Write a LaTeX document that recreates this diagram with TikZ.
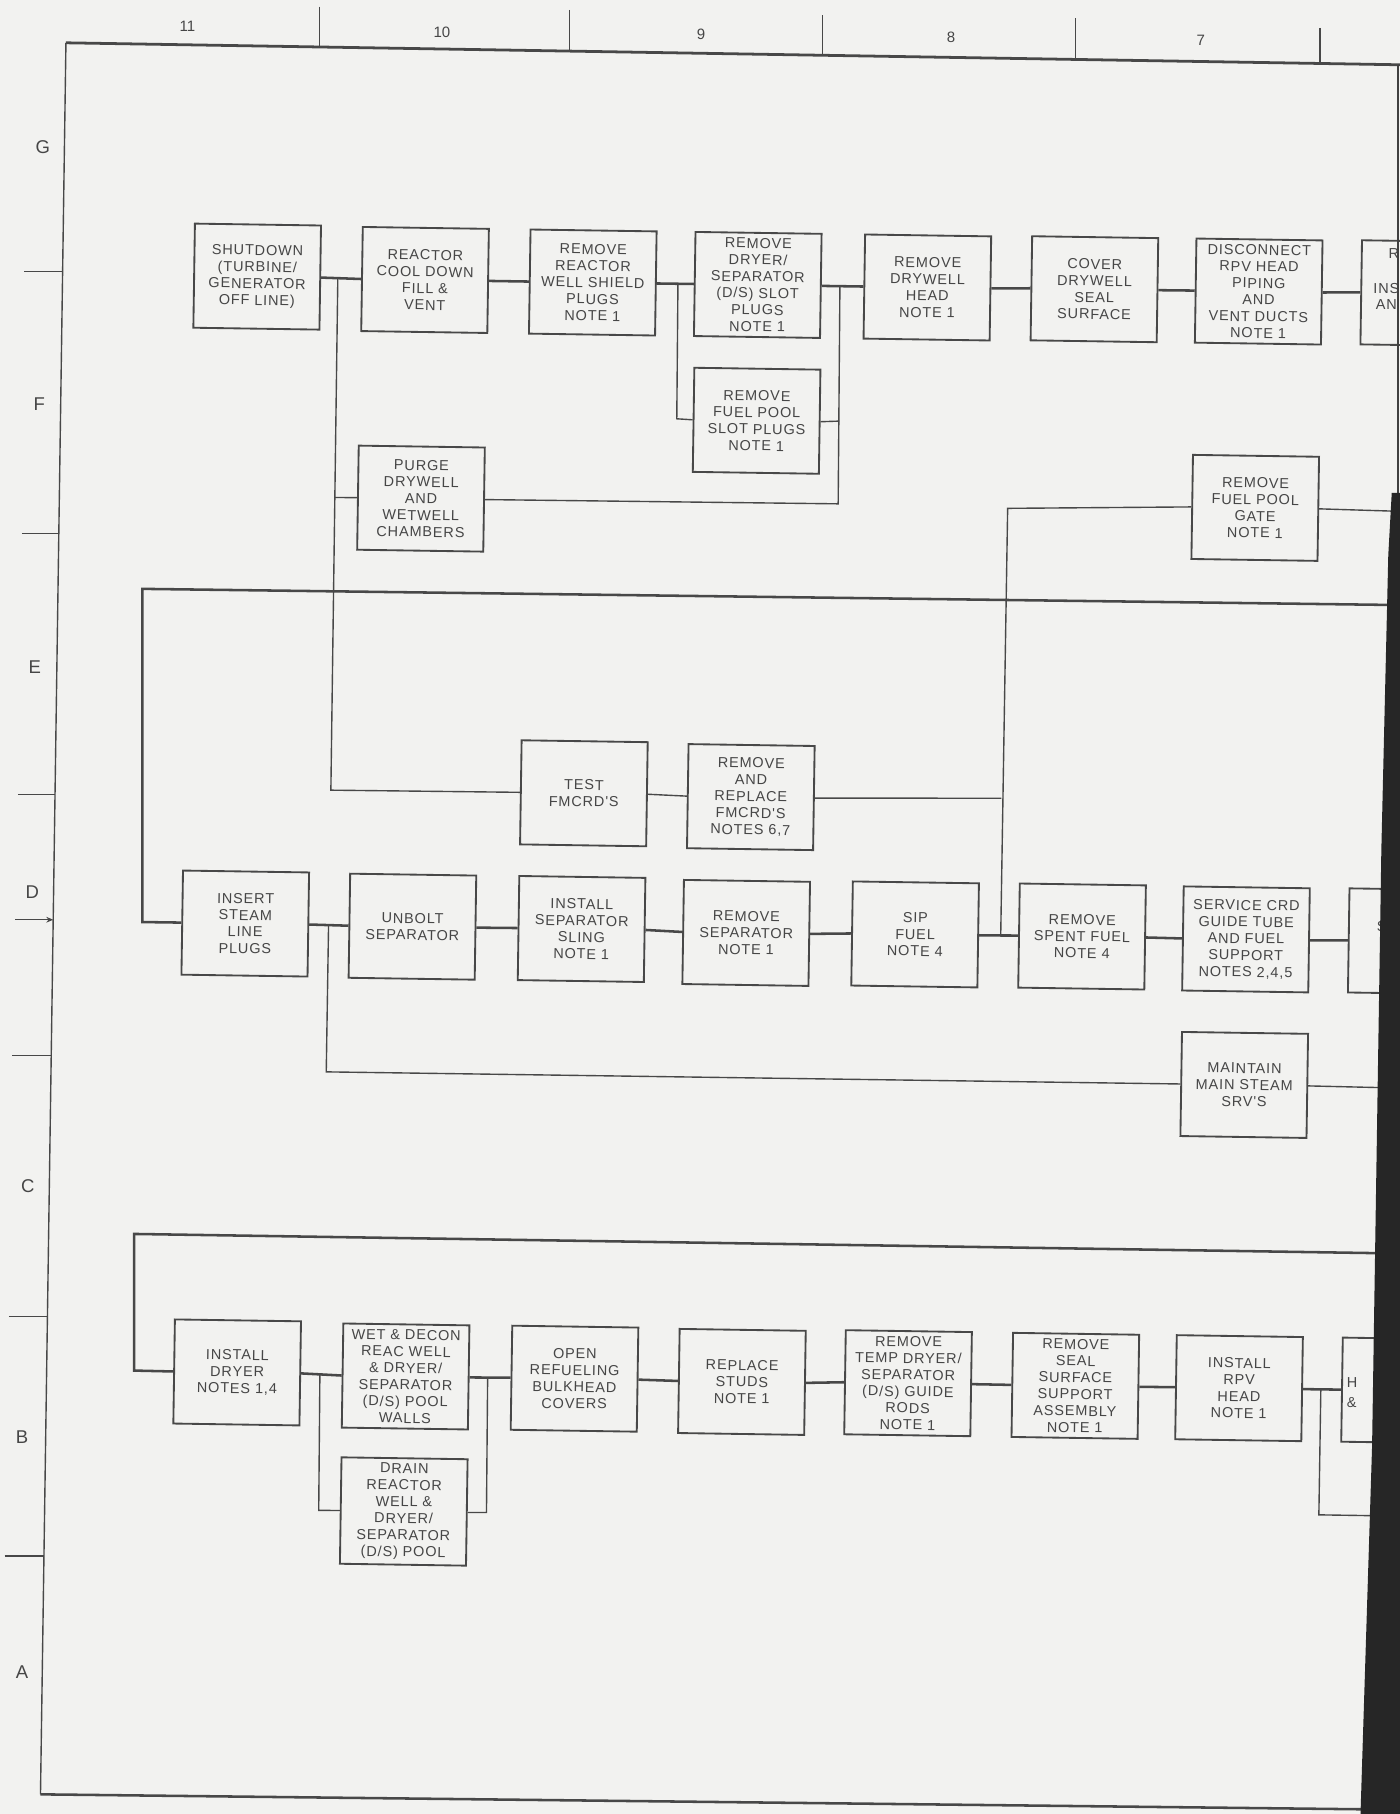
\documentclass[tikz,border=0pt]{standalone}
\usepackage{fontspec}
\setmainfont{Liberation Sans}
\newfontfamily\boxface{Liberation Sans}[LetterSpace=6]
\usetikzlibrary{arrows.meta}
\definecolor{paper}{RGB}{242,242,240}
\definecolor{ink}{RGB}{72,72,72}
\definecolor{inktext}{RGB}{70,70,70}
\tikzset{
  task/.style={draw=ink, line width=1.6pt, minimum width=109pt, minimum height=90pt, inner sep=0pt, rotate=-0.86, align=center, text=inktext, font=\boxface\fontsize{12.5}{14.4}\selectfont},
  cutlbl/.style={anchor=west, inner sep=0pt, text=inktext, font=\boxface\fontsize{12.5}{14.4}\selectfont},
  flow/.style={draw=ink, line width=2.2pt},
  branch/.style={draw=ink, line width=1.2pt},
  zonelbl/.style={text=inktext, font=\fontsize{16}{16}\selectfont},
  collbl/.style={text=inktext, font=\fontsize{13}{13}\selectfont},
}
\begin{document}
\begin{tikzpicture}[x=1pt, y=-1pt]
\fill[paper] (0,0) rectangle (1210,1568);
\useasboundingbox (0,0) rectangle (1210,1568);

\draw[ink, line width=2.4pt] (57,37) -- (1210,56);
\draw[ink, line width=1.2pt] (57,37) -- (35,1551);
\draw[ink, line width=2.2pt] (35,1551) -- (1185,1564);
\draw[ink, line width=1pt] (276,5.8) -- (276,40.6);
\draw[ink, line width=1pt] (492,8.6) -- (492,44.2);
\draw[ink, line width=1pt] (711,13) -- (711,47.8);
\draw[ink, line width=1pt] (930,15.8) -- (930,51.4);
\draw[ink, line width=1pt] (1141,24) -- (1141,54.9);
\node[collbl] (col11) at (162,23) {11};
\node[collbl] (col10) at (382,28) {10};
\node[collbl] (col9) at (606,30) {9};
\node[collbl] (col8) at (822,32) {8};
\node[collbl] (col7) at (1038,35) {7};
\draw[ink, line width=1pt] (21,235) -- (54,235);
\draw[ink, line width=1pt] (19,461) -- (51,461);
\draw[ink, line width=1pt] (15.5,687) -- (47.6,687);
\draw[ink, line width=1pt] (10.8,912) -- (44.3,912);
\draw[ink, line width=1pt] (7.7,1138) -- (41,1138);
\draw[ink, line width=1pt] (3.9,1345) -- (38,1345);
\draw[ink, line width=1pt, -{Stealth[length=6pt, width=5pt]}] (13,795) -- (46,795);
\node[zonelbl] (rowG) at (37,127) {G};
\node[zonelbl] (rowF) at (34,349) {F};
\node[zonelbl] (rowE) at (30,577) {E};
\node[zonelbl] (rowD) at (28,771) {D};
\node[zonelbl] (rowC) at (24,1025) {C};
\node[zonelbl] (rowB) at (19,1242) {B};
\node[zonelbl] (rowA) at (19,1445) {A};

\node[task] (shutdown) at (222.3,239.1) {SHUTDOWN\\(TURBINE/\\GENERATOR\\OFF LINE)};
\node[task] (cooldown) at (367.4,242) {REACTOR\\COOL DOWN\\FILL \&\\VENT};
\node[task] (shieldplugs) at (512.4,244.2) {REMOVE\\REACTOR\\WELL SHIELD\\PLUGS\\NOTE 1};
\node[task] (slotplugs) at (655,246.3) {REMOVE\\DRYER/\\SEPARATOR\\(D/S) SLOT\\PLUGS\\NOTE 1};
\node[task] (drywellhead) at (801.6,248.5) {REMOVE\\DRYWELL\\HEAD\\NOTE 1};
\node[task] (sealcover) at (946,250) {COVER\\DRYWELL\\SEAL\\SURFACE};
\node[task] (headpiping) at (1088,252) {DISCONNECT\\RPV HEAD\\PIPING\\AND\\VENT DUCTS\\NOTE 1};
\node[task] (rowgcut) at (1231.1,253.5) {};
\node[task] (poolplugs) at (654,363.7) {REMOVE\\FUEL POOL\\SLOT PLUGS\\NOTE 1};
\node[task] (purge) at (363.9,431) {PURGE\\DRYWELL\\AND\\WETWELL\\CHAMBERS};
\node[task] (poolgate) at (1085,439) {REMOVE\\FUEL POOL\\GATE\\NOTE 1};

\node[task] (tstfmcrd) at (504.7,685.7) {TEST\\FMCRD'S};
\node[task] (replfmcrd) at (649,689) {REMOVE\\AND\\REPLACE\\FMCRD'S\\NOTES 6,7};
\node[task] (steamplugs) at (212,798.3) {INSERT\\STEAM\\LINE\\PLUGS};
\node[task] (unbolt) at (356.5,801) {UNBOLT\\SEPARATOR};
\node[task] (sling) at (502.7,803) {INSTALL\\SEPARATOR\\SLING\\NOTE 1};
\node[task] (rmvsep) at (645,806.4) {REMOVE\\SEPARATOR\\NOTE 1};
\node[task] (sipfuel) at (791,807.7) {SIP\\FUEL\\NOTE 4};
\node[task] (spentfuel) at (935.3,809.5) {REMOVE\\SPENT FUEL\\NOTE 4};
\node[task] (crdguide) at (1077,812) {SERVICE CRD\\GUIDE TUBE\\AND FUEL\\SUPPORT\\NOTES 2,4,5};
\node[task] (rowdcut) at (1220.3,813.7) {};
\node[task] (mainsteam) at (1075.5,937.8) {MAINTAIN\\MAIN STEAM\\SRV'S};

\node[task] (dryer) at (205,1186.3) {INSTALL\\DRYER\\NOTES 1,4};
\node[task] (decon) at (350.6,1189.8) {WET \& DECON\\REAC WELL\\\& DRYER/\\SEPARATOR\\(D/S) POOL\\WALLS};
\node[task, minimum height=92pt] (drain) at (349,1306.5) {DRAIN\\REACTOR\\WELL \&\\DRYER/\\SEPARATOR\\(D/S) POOL};
\node[task] (bulkhead) at (496.6,1191.7) {OPEN\\REFUELING\\BULKHEAD\\COVERS};
\node[task] (studs) at (641.3,1194.5) {REPLACE\\STUDS\\NOTE 1};
\node[task] (guiderods) at (784.9,1195.6) {REMOVE\\TEMP DRYER/\\SEPARATOR\\(D/S) GUIDE\\RODS\\NOTE 1};
\node[task] (sealsupport) at (929.5,1197.9) {REMOVE\\SEAL\\SURFACE\\SUPPORT\\ASSEMBLY\\NOTE 1};
\node[task] (rpvhead) at (1071,1199.9) {INSTALL\\RPV\\HEAD\\NOTE 1};
\node[task] (rowbcut) at (1214.5,1202) {};

\node[cutlbl] (rowgcut1) at (1200,219) {R};
\node[cutlbl] (rowgcut3) at (1187,249) {INS};
\node[cutlbl] (rowgcut4) at (1189,263) {AN};
\node[cutlbl] (rowdcut1) at (1190,801) {S};
\node[cutlbl] (rowbcut1) at (1164,1195) {H};
\node[cutlbl] (rowbcut2) at (1164,1212) {\&};

\draw[flow] (shutdown.east) -- (cooldown.west) (cooldown.east) -- (shieldplugs.west) (shieldplugs.east) -- (slotplugs.west) (slotplugs.east) -- (drywellhead.west) (drywellhead.east) -- (sealcover.west) (sealcover.east) -- (headpiping.west) (headpiping.east) -- (rowgcut.west);
\coordinate (ja) at (292,240.5);
\coordinate (jc) at (289.2,430);
\coordinate (jb) at (286,683);
\draw[branch] (ja) -- (jb) -- (tstfmcrd.west);
\draw[branch] (jc) -- (purge.west);
\coordinate (jd) at (586,245.3);
\coordinate (je) at (585,362);
\draw[branch] (jd) -- (je) -- (poolplugs.west);
\coordinate (jf) at (726,247.5);
\coordinate (jpool) at (725.3,364);
\coordinate (jg) at (724.5,435.5);
\draw[branch] (jf) -- (jg) -- (purge.east);
\draw[branch] (poolplugs.east) -- (jpool);
\coordinate (jgate) at (871,439.4);
\coordinate (jrepl) at (865.5,690);
\coordinate (jspent) at (865,808.6);
\coordinate (gateout) at (1210,442);
\draw[branch] (poolgate.west) -- (jgate) -- (jspent);
\draw[branch] (replfmcrd.east) -- (jrepl);
\draw[branch] (poolgate.east) -- (gateout);

\coordinate (loopd0) at (1210,523);
\coordinate (loopd1) at (123,509);
\coordinate (loopd2) at (123,797);
\draw[flow] (loopd0) -- (loopd1) -- (loopd2) -- (steamplugs.west);
\draw[branch] (tstfmcrd.east) -- (replfmcrd.west);
\draw[flow] (steamplugs.east) -- (unbolt.west) (unbolt.east) -- (sling.west) (sling.east) -- (rmvsep.west) (rmvsep.east) -- (sipfuel.west) (sipfuel.east) -- (spentfuel.west) (spentfuel.east) -- (crdguide.west) (crdguide.east) -- (rowdcut.west);
\coordinate (jk) at (284,799.6);
\coordinate (jl) at (282,926.5);
\coordinate (steamout) at (1210,940.5);
\draw[branch] (jk) -- (jl) -- (mainsteam.west);
\draw[branch] (mainsteam.east) -- (steamout);

\coordinate (loopb0) at (1210,1083.5);
\coordinate (loopb1) at (116,1066.6);
\coordinate (loopb2) at (116,1184.7);
\draw[flow] (loopb0) -- (loopb1) -- (loopb2) -- (dryer.west);
\draw[flow] (dryer.east) -- (decon.west) (decon.east) -- (bulkhead.west) (bulkhead.east) -- (studs.west) (studs.east) -- (guiderods.west) (guiderods.east) -- (sealsupport.west) (sealsupport.east) -- (rpvhead.west) (rpvhead.east) -- (rowbcut.west);
\coordinate (jm) at (276.5,1187.9);
\coordinate (jn) at (275.5,1305.5);
\draw[branch] (jm) -- (jn) -- (drain.west);
\coordinate (jo) at (421.5,1190.8);
\coordinate (jp) at (420.5,1307.4);
\draw[branch] (jo) -- (jp) -- (drain.east);
\coordinate (jq) at (1141.7,1201.2);
\coordinate (jr) at (1140,1309.4);
\coordinate (rpvout) at (1210,1310.5);
\draw[branch] (jq) -- (jr) -- (rpvout);

\draw[black!75, line width=1.5pt] (1208.5,56) -- (1208.5,426);
\fill[black!85] (1203,426) -- (1210,426) -- (1210,1568) -- (1176,1568) -- (1186,1250) -- (1194,735) -- (1200,480) -- cycle;
\end{tikzpicture}
\end{document}
